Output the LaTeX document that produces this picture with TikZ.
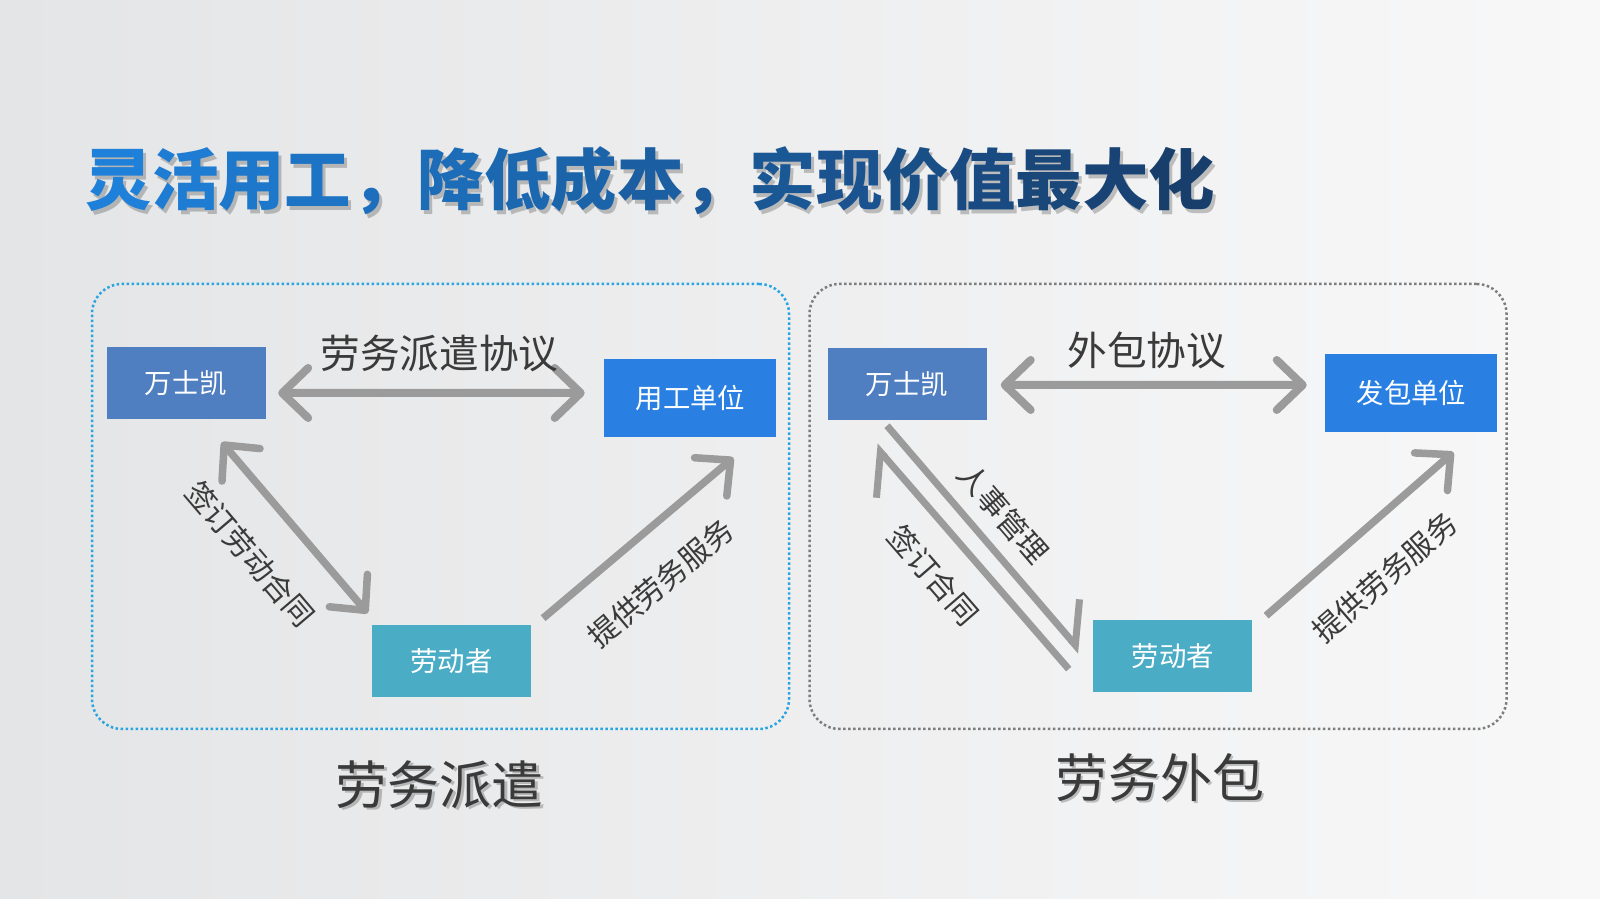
\documentclass[tikz,border=0pt]{standalone}
\usepackage{fontspec}
\setmainfont{Noto Sans CJK SC}
\usepackage{xcolor}
\usepackage{tikz}
\usetikzlibrary{arrows.meta,positioning}

\definecolor{bgleft}{RGB}{228,229,230}
\definecolor{bgright}{RGB}{248,248,249}
\definecolor{wskblue}{RGB}{79,127,192}
\definecolor{unitblue}{RGB}{42,128,226}
\definecolor{workerteal}{RGB}{75,172,198}
\definecolor{arrgray}{RGB}{155,155,155}
\definecolor{framecyan}{RGB}{40,165,225}
\definecolor{framegray}{RGB}{125,125,125}
\definecolor{titlelight}{RGB}{30,128,216}
\definecolor{titledark}{RGB}{24,62,108}
\definecolor{lbltext}{RGB}{58,58,58}

\begin{document}
\begin{tikzpicture}[
  party/.style={fill=#1, minimum width=1.59cm, minimum height=0.72cm,
                inner sep=0pt, text=white, font=\fontsize{7.8}{9}\selectfont},
  party/.default=wskblue,
  client/.style={party=unitblue, minimum width=1.72cm, minimum height=0.78cm},
  framebox/.style={draw=#1, line width=0.025cm, dash pattern=on 0.025cm off 0.025cm,
                rounded corners=0.3cm, minimum width=6.97cm, minimum height=4.45cm},
  dblarr/.style={{Straight Barb[length=0.26cm,width=0.5cm,round]}-{Straight Barb[length=0.26cm,width=0.5cm,round]},
                 line width=0.08cm, draw=arrgray},
  onearr/.style={-{Straight Barb[length=0.26cm,width=0.5cm,round]},
                 line width=0.075cm, draw=arrgray},
  harp/.style={-{Straight Barb[harpoon,length=0.32cm,width=0.66cm]},
               line width=0.07cm, draw=arrgray},
  lbl/.style={text=lbltext, font=\fontsize{11.3}{13}\selectfont},
  slbl/.style={text=lbltext, font=\fontsize{8.5}{10}\selectfont, sloped, inner sep=1pt},
  captxt/.style={text=lbltext, font=\fontsize{14.8}{17}\selectfont, inner sep=1pt},
  titletxt/.style={anchor=west, inner sep=0pt, font=\fontsize{18.9}{22}\selectfont\bfseries},
  shadowtxt/.style={text=black, opacity=0.22},
]

%% --- Fondo ---
\useasboundingbox (0,0) rectangle (16,8.99);
\shade[left color=bgleft, right color=bgright] (0,0) rectangle (16,8.99);

%% --- Titulo ---
\node[titletxt, shadowtxt] at (0.88,7.14) {灵活用工，降低成本，实现价值最大化};
\node[titletxt] (title) at (0.85,7.18)
      {\foreach \ch [count=\i from 0] in {灵,活,用,工,，,降,低,成,本,，,实,现,价,值,最,大,化}{\pgfmathtruncatemacro{\pct}{\i*100/16}\textcolor{titledark!\pct!titlelight}{\ch}}};

%% --- Marcos ---
\node[framebox=framecyan] (lframe) at (4.405,3.925) {};
\node[framebox=framegray] (rframe) at (11.58,3.925) {};

%% --- Nodos: despacho ---
\node[party] (wskL) at (1.86,5.16) {万士凯};
\node[client, right=3.375cm of wskL, yshift=-0.15cm] (user) {用工单位};
\node[party=workerteal, below right=2.05cm and 1.05cm of wskL] (workL) {劳动者};

%% --- Nodos: subcontrata ---
\node[party] (wskR) at (9.07,5.15) {万士凯};
\node[client, right=3.375cm of wskR, yshift=-0.09cm] (issuer) {发包单位};
\node[party=workerteal, below right=1.99cm and 1.055cm of wskR] (workR) {劳动者};

%% --- Flechas: despacho ---
\draw[dblarr] ([xshift=0.12cm, yshift=-0.1cm]wskL.east) --
      node[lbl, above=0.05cm, xshift=0.08cm]{劳务派遣协议}
      ([xshift=-0.19cm, yshift=0.05cm]user.west);
\draw[dblarr, line width=0.075cm] ([xshift=-0.445cm, yshift=-0.225cm]wskL.south east) --
      node[slbl, pos=0.46, below=0.3cm]{签订劳动合同}
      ([xshift=-0.035cm, yshift=0.115cm]workL.north west);
\draw[onearr] ([xshift=0.115cm, yshift=0.065cm]workL.north east) --
      node[slbl, pos=0.45, below=0.28cm]{提供劳务服务}
      ([xshift=0.43cm, yshift=-0.2cm]user.south);

%% --- Flechas: subcontrata ---
\draw[dblarr] ([xshift=0.135cm, yshift=-0.01cm]wskR.east) --
      node[lbl, above=0cm, xshift=-0.07cm]{外包协议}
      ([xshift=-0.18cm, yshift=0.08cm]issuer.west);
\draw[harp] ([xshift=-0.2cm, yshift=-0.05cm]wskR.south) --
      node[slbl, pos=0.48, above=0.1cm]{人事管理}
      ([xshift=-0.12cm, yshift=0.05cm]workR.west);
\draw[harp] ([xshift=-0.24cm, yshift=0.24cm]workR.south west) --
      node[slbl, pos=0.54, below=0.2cm]{签订合同}
      ([xshift=-0.32cm, yshift=-0.25cm]wskR.south);
\draw[onearr] ([xshift=0.13cm, yshift=0.04cm]workR.north east) --
      node[slbl, pos=0.46, below=0.28cm]{提供劳务服务}
      ([xshift=0.42cm, yshift=-0.195cm]issuer.south);

%% --- Pies ---
\node[captxt, shadowtxt, below=0.28cm of lframe, xshift=0.02cm] {劳务派遣};
\node[captxt, below=0.26cm of lframe, xshift=-0.01cm] (capL) {劳务派遣};
\node[captxt, shadowtxt, below=0.21cm of rframe, xshift=0.04cm] {劳务外包};
\node[captxt, below=0.19cm of rframe, xshift=0.02cm] (capR) {劳务外包};

\end{tikzpicture}
\end{document}
